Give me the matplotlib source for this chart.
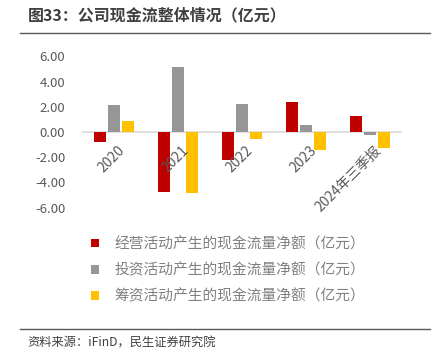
import numpy as np
import matplotlib
matplotlib.use("Agg")
import matplotlib.pyplot as plt
from matplotlib.patches import Patch

plt.rcParams["font.family"] = ["Noto Sans CJK SC", "DejaVu Sans"]

# ============================================================
# Data
# ============================================================

years = ["2020", "2021", "2022", "2023", "2024年三季报"]
operating = [-0.80, -4.80, -2.25, 2.35, 1.25]
investing = [2.10, 5.15, 2.20, 0.55, -0.28]
financing = [0.90, -4.85, -0.55, -1.45, -1.25]

series_names = [
    "经营活动产生的现金流量净额（亿元）",
    "投资活动产生的现金流量净额（亿元）",
    "筹资活动产生的现金流量净额（亿元）",
]
colors = ["#C00000", "#969696", "#FFC000"]

# ============================================================
# Figure
# ============================================================

fig = plt.figure(figsize=(4.36, 3.61), dpi=100)
ax = fig.add_axes([0.188, 0.425, 0.734, 0.419])

x = np.arange(len(years))
w = 0.18
off = 0.22
for i, vals in enumerate([operating, investing, financing]):
    ax.bar(x + (i - 1) * off, vals, width=w, color=colors[i], zorder=3)

ax.axhline(0, color="#d9d9d9", linewidth=1.2, zorder=2)
ax.set_xlim(-0.5, len(years) - 0.5)
ax.set_ylim(-6, 6)
ax.set_yticks(np.arange(-6, 7, 2))
ax.set_yticklabels([f"{v:.2f}" for v in np.arange(-6, 7, 2)])

for s in ax.spines.values():
    s.set_visible(False)
ax.tick_params(axis="y", length=0, labelsize=9.5, colors="#595959", pad=12)
ax.set_xticks([])

# x labels sit just below the zero line
for xi, lab in zip(x, years):
    ax.text(xi + 0.06, -0.9, lab, rotation=45, ha="right", va="top",
            rotation_mode="anchor", fontsize=10, color="#595959")

# ============================================================
# Legend
# ============================================================

handles = [Patch(facecolor=c, edgecolor="none") for c in colors]
fig.legend(handles, series_names, loc="upper left",
           bbox_to_anchor=(0.178, 0.38), frameon=False,
           handlelength=0.53, handleheight=0.53, handletextpad=1.1,
           labelspacing=0.8, fontsize=10.6, labelcolor="#808080")

# ============================================================
# Title and source
# ============================================================

fig.text(0.064, 0.958, "图33：公司现金流整体情况（亿元）", fontsize=11.5,
         fontweight="bold", color="#404040", va="center")
fig.add_artist(plt.Line2D([0.045, 0.987], [0.908, 0.908], color="#595959",
                          linewidth=1.0))
fig.add_artist(plt.Line2D([0.045, 0.987], [0.09, 0.09], color="#595959",
                          linewidth=1.0))
fig.text(0.064, 0.05, "资料来源：iFinD，民生证券研究院", fontsize=8.8,
         color="#404040", va="center")

fig.savefig("out.png", dpi=100)
